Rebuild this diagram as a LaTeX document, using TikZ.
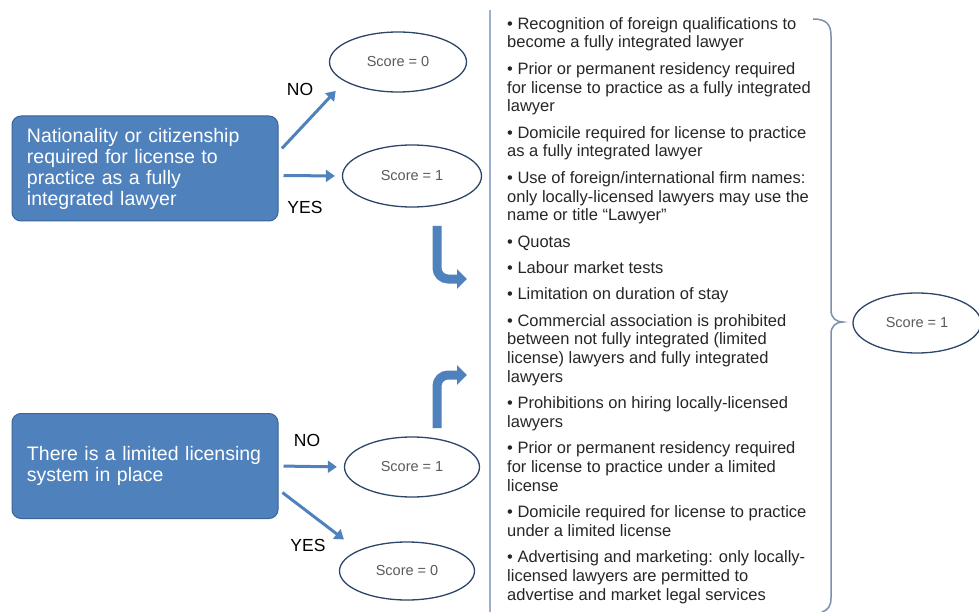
\documentclass[tikz,border=0pt]{standalone}
\usepackage{fontspec}
\setmainfont{Liberation Sans}
\usepackage{tikz}
\usetikzlibrary{shapes.geometric,arrows.meta}
\definecolor{boxblue}{HTML}{4F81BD}
\definecolor{boxedge}{HTML}{3A6496}
\definecolor{ringc}{HTML}{2C4568}
\definecolor{scoretxt}{HTML}{5A5A5A}
\definecolor{rulec}{HTML}{9AB0CC}
\definecolor{bracec}{HTML}{7D90AA}
\tikzset{
  qbox/.style={draw=boxedge, fill=boxblue, rounded corners=9pt, line width=1pt, text=white, align=left,
    text width=236pt, minimum height=105pt, inner xsep=15pt, font=\fontsize{19.5}{21}\selectfont},
  score/.style={ellipse, draw=ringc, line width=1.3pt, inner sep=0pt, text=scoretxt, font=\fontsize{14.5}{16}\selectfont},
  flow/.style={draw=boxblue, line width=3pt, -{Triangle[length=9pt,width=12pt]}, shorten <=5pt},
  turn/.style={draw=boxblue, line width=9pt, rounded corners=11pt, -{Triangle[length=10pt,width=19pt]}},
  ans/.style={font=\fontsize{17.5}{19}\selectfont},
  items/.style={align=left, inner sep=0pt, text=black!85, font=\fontsize{16.5}{18.8}\selectfont}
}

\begin{document}
\begin{tikzpicture}[x=1pt, y=-1pt]
  \useasboundingbox (0,0) rectangle (979,612);

  % the two questions
  \node[qbox] (nat) at (145,168.5) {Nationality or citizenship\\required for license to\\practice as a fully\\integrated lawyer};
  \node[qbox] (lim) at (145,466) {There is a limited licensing\\system in place};

  % scores
  \node[score, minimum width=137pt, minimum height=60pt] (e1) at (398,62) {Score = 0};
  \node[score, minimum width=139pt, minimum height=62pt] (e2) at (412,176) {Score = 1};
  \node[score, minimum width=135pt, minimum height=60pt] (e3) at (412,467) {Score = 1};
  \node[score, minimum width=135pt, minimum height=58pt] (e4) at (407,571) {Score = 0};
  \node[score, minimum width=128pt, minimum height=60pt] (e5) at (917,323) {Score = 1};

  \draw[flow, shorten >=13pt] (nat.7) -- (e1.200);
  \draw[flow, shorten >=7pt] (nat.-3) -- (e2.west);
  \draw[flow, shorten >=7pt] (lim.east) -- (e3.west);
  \draw[flow, shorten >=18pt] (lim.-10) -- (e4.157);

  \node[ans] (no1) at (300,89) {NO};
  \node[ans] (yes1) at (305,207) {YES};
  \node[ans] (no2) at (307,440) {NO};
  \node[ans] (yes2) at (308,545) {YES};

  % bent arrows into the list
  \coordinate (dn1) at (437,226);
  \coordinate (dn2) at (467,279);
  \coordinate (up1) at (437,428);
  \coordinate (up2) at (467,375);
  \draw[turn] (dn1) |- (dn2);
  \draw[turn] (up1) |- (up2);

  % list with its rule and brace
  \draw[rulec, line width=1.6pt] (490,10) -- (490,612);
  \draw[bracec, line width=1.5pt] (813,19) .. controls (826,19) and (831,24) .. (831,36)
    -- (831,310) .. controls (831,318) and (836,322) .. (843,322)
    .. controls (836,322) and (831,326) .. (831,334)
    -- (831,598) .. controls (831,606) and (828,610) .. (822,612);

  \node[items, anchor=north west] (list) at (507,17) {%
    • Recognition of foreign qualifications to\\become a fully integrated lawyer\\[7.5pt]
    • Prior or permanent residency required\\for license to practice as a fully integrated\\lawyer\\[7.5pt]
    • Domicile required for license to practice\\as a fully integrated lawyer\\[7.5pt]
    • Use of foreign/international firm names:\\only locally-licensed lawyers may use the\\name or title “Lawyer”\\[7.5pt]
    • Quotas\\[7.5pt]
    • Labour market tests\\[7.5pt]
    • Limitation on duration of stay\\[7.5pt]
    • Commercial association is prohibited\\between not fully integrated (limited\\license) lawyers and fully integrated\\lawyers\\[7.5pt]
    • Prohibitions on hiring locally-licensed\\lawyers\\[7.5pt]
    • Prior or permanent residency required\\for license to practice under a limited\\license\\[7.5pt]
    • Domicile required for license to practice\\under a limited license\\[7.5pt]
    • Advertising and marketing: only locally-\\licensed lawyers are permitted to\\advertise and market legal services};
\end{tikzpicture}
\end{document}
